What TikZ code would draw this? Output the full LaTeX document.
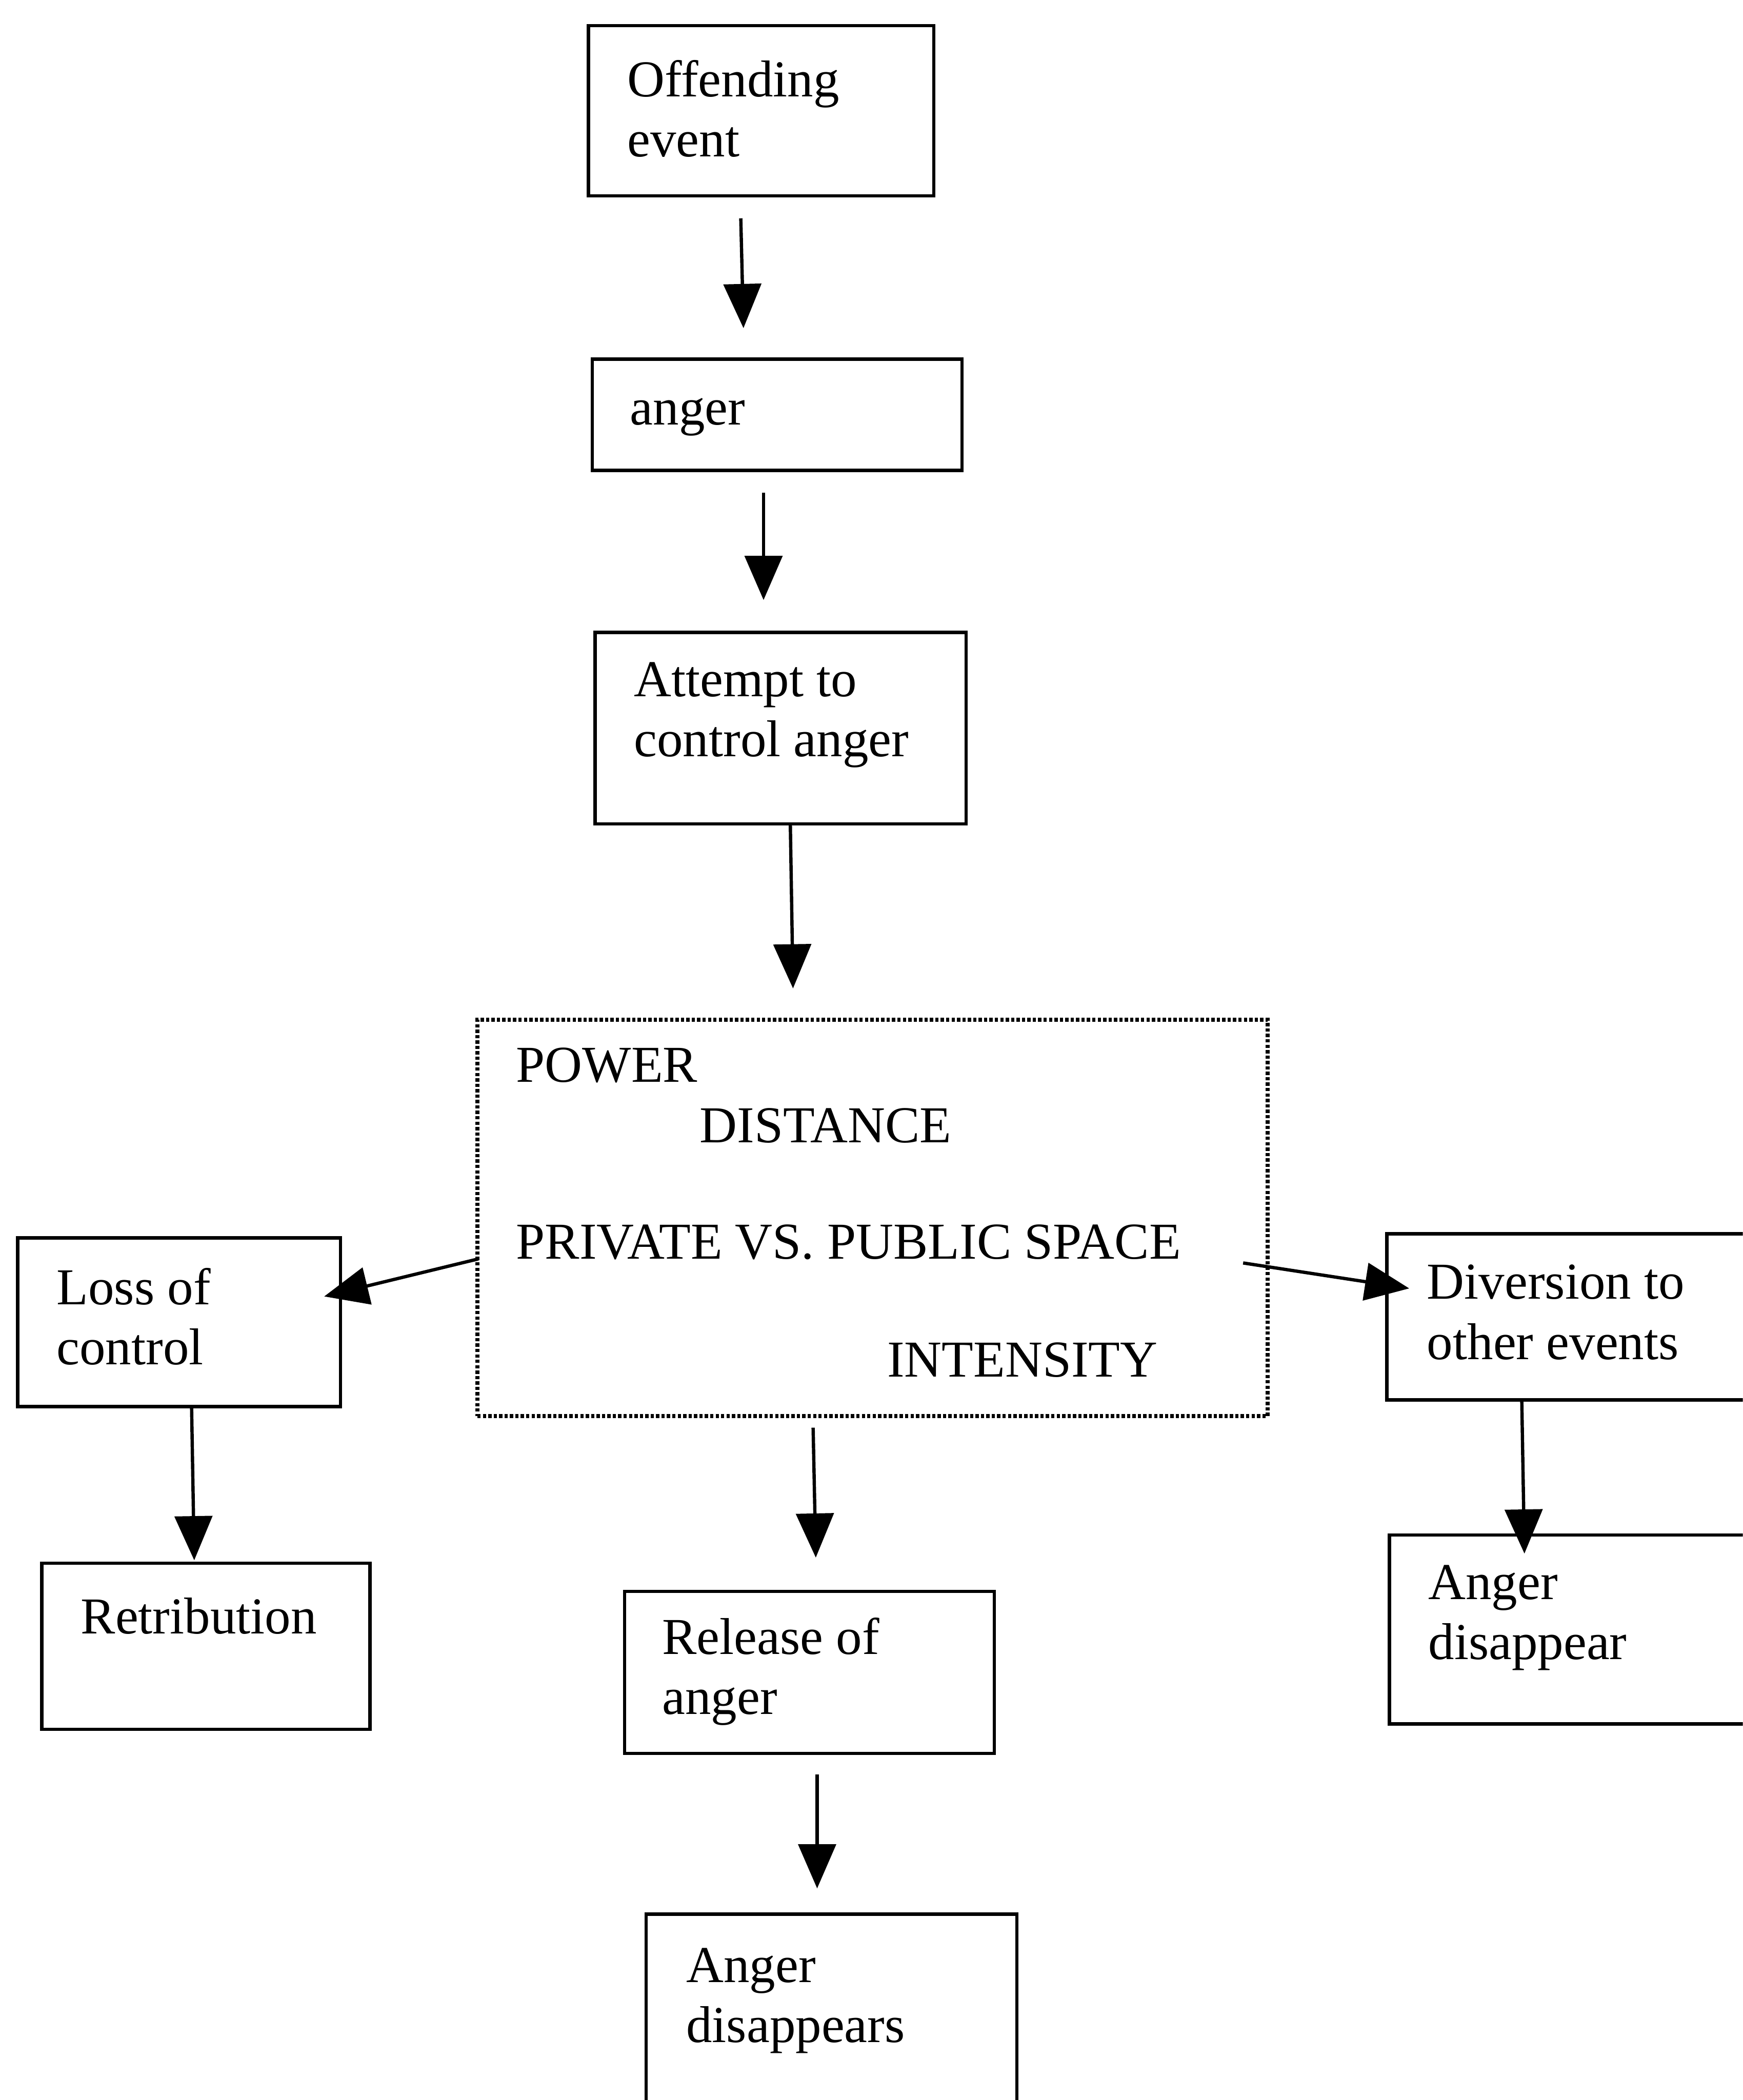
\documentclass[tikz,border=0pt]{standalone}
\usepackage{fontspec}
\setmainfont{Liberation Serif}
\usetikzlibrary{arrows.meta}
\begin{document}
\begin{tikzpicture}[x=0.02cm, y=-0.02cm,
  box/.style={draw, line width=1.4pt, inner sep=0pt, anchor=north west},
  dotbox/.style={draw, line width=1.6pt, inner sep=0pt, anchor=north west, dash pattern=on 1.4pt off 0.9pt},
  txt/.style={anchor=base west, inner sep=0pt, align=left, font=\fontsize{22}{25.6}\selectfont},
  arr/.style={line width=1.4pt, -{Triangle[length=0.66cm, width=0.56cm]}}]
\clip (0,0) rectangle (1301,1568);
\fill[white] (0,0) rectangle (1301,1568);
% boxes
\node[box, minimum width=5.16cm, minimum height=2.54cm] (off) at (438,18) {};
\node[box, minimum width=5.52cm, minimum height=1.66cm] (ang) at (441,267) {};
\node[box, minimum width=5.54cm, minimum height=2.86cm] (att) at (443,471) {};
\node[dotbox, minimum width=11.8cm, minimum height=5.92cm] (pd) at (355,760) {};
\node[box, minimum width=4.82cm, minimum height=2.52cm] (loss) at (12,923) {};
\node[box, minimum width=4.9cm, minimum height=2.48cm] (ret) at (30,1166) {};
\node[box, minimum width=5.52cm, minimum height=2.42cm] (rel) at (465,1187) {};
\node[box, minimum width=5.54cm, minimum height=3.44cm] (dis) at (481,1428) {};
\node[box, minimum width=5.92cm, minimum height=2.48cm] (div) at (1034,920) {};
\node[box, minimum width=5.88cm, minimum height=2.82cm] (dis2) at (1036,1145) {};
% texts (base anchor = baseline of the last line)
\node[txt] (toff) at (468,117) {Offending\\event};
\node[txt] (tang) at (470,317) {anger};
\node[txt] (tatt) at (473,565) {Attempt to\\control anger};
\node[txt] (tpow) at (385,808) {POWER};
\node[txt] (tdst) at (522,853) {DISTANCE};
\node[txt] (tpps) at (385,940) {PRIVATE VS. PUBLIC SPACE};
\node[txt] (tint) at (662,1028) {INTENSITY};
\node[txt] (tloss) at (42,1019) {Loss of\\control};
\node[txt] (tret) at (60,1220) {Retribution};
\node[txt] (trel) at (494,1280) {Release of\\anger};
\node[txt] (tdis) at (512,1525) {Anger\\disappears};
\node[txt] (tdiv) at (1065,1015) {Diversion to\\other events};
\node[txt] (tdis2) at (1066,1239) {Anger\\disappear};
% connector end points
\coordinate (a1s) at (553,163); \coordinate (a1e) at (555,245);
\coordinate (a2s) at (570,368); \coordinate (a2e) at (570,448);
\coordinate (a3s) at (590,616); \coordinate (a3e) at (592,738);
\coordinate (a4s) at (357,940); \coordinate (a4e) at (242,968);
\coordinate (a5s) at (928,943); \coordinate (a5e) at (1052,962);
\coordinate (a6s) at (143,1049); \coordinate (a6e) at (145,1165);
\coordinate (a7s) at (607,1066); \coordinate (a7e) at (609,1163);
\coordinate (a8s) at (610,1325); \coordinate (a8e) at (610,1410);
\coordinate (a9s) at (1136,1044); \coordinate (a9e) at (1138,1160);
\foreach \i in {1,...,9} {\draw[arr] (a\i s) -- (a\i e);}
\end{tikzpicture}
\end{document}
